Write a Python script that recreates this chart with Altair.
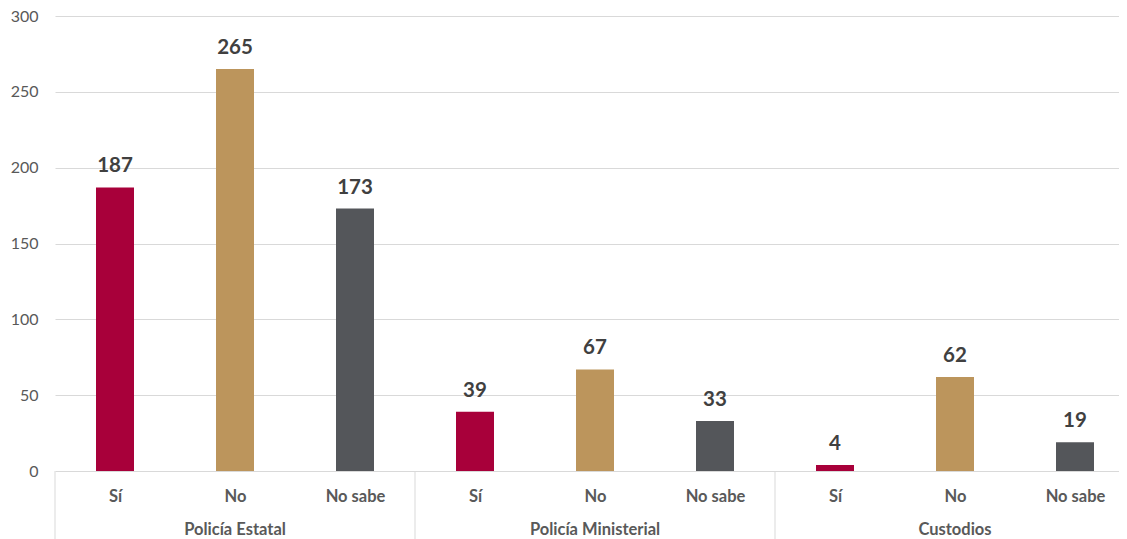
import altair as alt
import pandas as pd

# --- data ---
group_names = ["Policía Estatal", "Policía Ministerial", "Custodios"]
answers = ["Sí", "No", "No sabe"]
values = [187, 265, 173, 39, 67, 33, 4, 62, 19]
y_ticks = [0, 50, 100, 150, 200, 250, 300]
colors = ["#A8003A", "#BC955C", "#54565A"]

rows = []
for gi, g in enumerate(group_names):
    for ai, a in enumerate(answers):
        i = gi * 3 + ai
        rows.append({"pos": i, "group": g, "answer": a, "value": values[i]})
df = pd.DataFrame(rows)

grp = pd.DataFrame({
    "group": group_names,
    "center": [gi * 3 + 1 for gi in range(len(group_names))],
})
seps = pd.DataFrame({"sep": [gi * 3 - 0.5 for gi in range(len(group_names))]})

W, H = 1064, 455
STEP = 120.0  # pixels per category slot
FONT = "Lato"
n = len(values)
xscale = alt.Scale(domain=[-0.5, -0.5 + W / STEP], nice=False, zero=False, padding=0)
yscale = alt.Scale(domain=[0, 300], nice=False)

label_expr = " : ".join(
    f"datum.value % 3 == {i} ? '{a}'" for i, a in enumerate(answers[:-1])
) + f" : '{answers[-1]}'"

x_enc = alt.X(
    "pos:Q",
    scale=xscale,
    axis=alt.Axis(
        values=list(range(n)),
        labelExpr=label_expr,
        grid=False,
        ticks=False,
        domain=False,
        labelFont=FONT,
        labelFontSize=16.5,
        labelFontWeight="bold",
        labelColor="#595959",
        labelBaseline="alphabetic",
        labelPadding=30,
        title=None,
    ),
)

y_enc = alt.Y(
    "value:Q",
    scale=yscale,
    axis=alt.Axis(
        values=y_ticks,
        grid=True,
        gridColor="#D9D9D9",
        gridWidth=1,
        ticks=False,
        domain=False,
        labelFont=FONT,
        labelFontSize=16,
        labelColor="#595959",
        labelPadding=17,
        title=None,
    ),
)

bars = alt.Chart(df).mark_bar(size=38).encode(
    x=x_enc,
    y=y_enc,
    color=alt.Color("answer:N", scale=alt.Scale(domain=answers, range=colors), legend=None),
)

labels = alt.Chart(df).mark_text(
    baseline="alphabetic", dy=-15, font=FONT, fontSize=20.5, fontWeight="bold", color="#404040"
).encode(
    x=alt.X("pos:Q", scale=xscale),
    y=alt.Y("value:Q", scale=yscale),
    text="value:Q",
)

sep_rules = alt.Chart(seps).mark_rule(color="#D9D9D9", strokeWidth=1).encode(
    x=alt.X("sep:Q", scale=xscale),
    y=alt.value(H),
    y2=alt.value(H + 68),
)

group_text = alt.Chart(grp).mark_text(
    font=FONT, fontSize=16.5, fontWeight="bold", color="#595959", baseline="alphabetic"
).encode(
    x=alt.X("center:Q", scale=xscale),
    y=alt.value(H + 64),
    text="group:N",
)

chart = alt.layer(bars, labels, sep_rules, group_text).properties(
    width=W,
    height=H,
    autosize=alt.AutoSizeParams(type="none"),
    padding={"left": 47, "top": 8, "right": 0, "bottom": 68},
).configure_view(stroke=None)

chart.save("out.html", embed_options={"renderer": "svg", "actions": False})
